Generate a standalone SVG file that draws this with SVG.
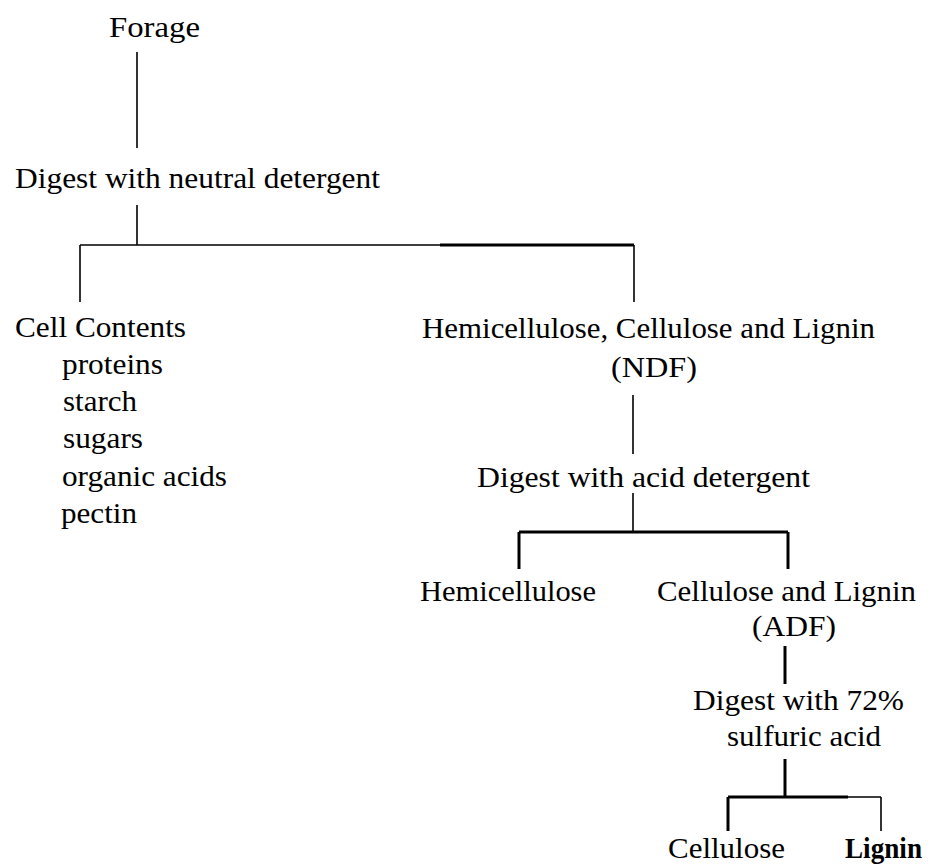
<svg xmlns="http://www.w3.org/2000/svg" width="930" height="868" viewBox="0 0 930 868">
<style>
text{font-family:"Liberation Serif","Times New Roman",serif;font-size:30px;fill:#000}
.t{stroke:#000;stroke-width:1.6;fill:none}
.k{stroke:#000;stroke-width:3;fill:none}
</style>
<rect width="930" height="868" fill="#fff"/>
<g id="connectors">
<line class="t" x1="137" y1="52" x2="137" y2="148"/>
<line class="t" x1="137" y1="205" x2="137" y2="245"/>
<line class="t" x1="80" y1="245" x2="634" y2="245"/>
<line class="k" x1="440" y1="245" x2="634" y2="245"/>
<line class="t" x1="80" y1="245" x2="80" y2="302"/>
<line class="t" x1="634" y1="245" x2="634" y2="302"/>
<line class="t" x1="633" y1="395" x2="633" y2="454"/>
<line class="t" x1="633" y1="493" x2="633" y2="532"/>
<line class="k" x1="519" y1="532" x2="788" y2="532"/>
<line class="k" x1="519" y1="532" x2="519" y2="569"/>
<line class="k" x1="788" y1="532" x2="788" y2="569"/>
<line class="k" x1="785" y1="646" x2="785" y2="684"/>
<line class="k" x1="785" y1="759" x2="785" y2="797"/>
<line class="k" x1="728" y1="797" x2="848" y2="797"/>
<line class="t" x1="846" y1="797" x2="881" y2="797"/>
<line class="k" x1="728" y1="797" x2="728" y2="831"/>
<line class="t" x1="881" y1="797" x2="881" y2="831"/>
</g>
<g id="forage"><text x="109" y="37" textLength="91" lengthAdjust="spacingAndGlyphs">Forage</text></g>
<g id="digest-neutral"><text x="15" y="188" textLength="365" lengthAdjust="spacingAndGlyphs">Digest with neutral detergent</text></g>
<g id="cell-contents">
<text x="15" y="337" textLength="171" lengthAdjust="spacingAndGlyphs">Cell Contents</text>
<text x="62" y="374" textLength="101" lengthAdjust="spacingAndGlyphs">proteins</text>
<text x="63" y="411" textLength="74" lengthAdjust="spacingAndGlyphs">starch</text>
<text x="63" y="448" textLength="80" lengthAdjust="spacingAndGlyphs">sugars</text>
<text x="62" y="486" textLength="165" lengthAdjust="spacingAndGlyphs">organic acids</text>
<text x="61" y="523" textLength="76" lengthAdjust="spacingAndGlyphs">pectin</text>
</g>
<g id="ndf">
<text x="422" y="338" textLength="453" lengthAdjust="spacingAndGlyphs">Hemicellulose, Cellulose and Lignin</text>
<text x="611" y="377" textLength="86" lengthAdjust="spacingAndGlyphs">(NDF)</text>
</g>
<g id="digest-acid"><text x="477" y="487" textLength="333" lengthAdjust="spacingAndGlyphs">Digest with acid detergent</text></g>
<g id="hemicellulose"><text x="420" y="601" textLength="176" lengthAdjust="spacingAndGlyphs">Hemicellulose</text></g>
<g id="adf">
<text x="657" y="601" textLength="259" lengthAdjust="spacingAndGlyphs">Cellulose and Lignin</text>
<text x="752" y="636" textLength="84" lengthAdjust="spacingAndGlyphs">(ADF)</text>
</g>
<g id="digest-sulfuric">
<text x="693" y="710" textLength="211" lengthAdjust="spacingAndGlyphs">Digest with 72%</text>
<text x="727" y="746" textLength="154" lengthAdjust="spacingAndGlyphs">sulfuric acid</text>
</g>
<g id="cellulose"><text x="668" y="858" textLength="117" lengthAdjust="spacingAndGlyphs">Cellulose</text></g>
<g id="lignin"><text x="845" y="858" textLength="77" lengthAdjust="spacingAndGlyphs" font-weight="bold">Lignin</text></g>
</svg>
